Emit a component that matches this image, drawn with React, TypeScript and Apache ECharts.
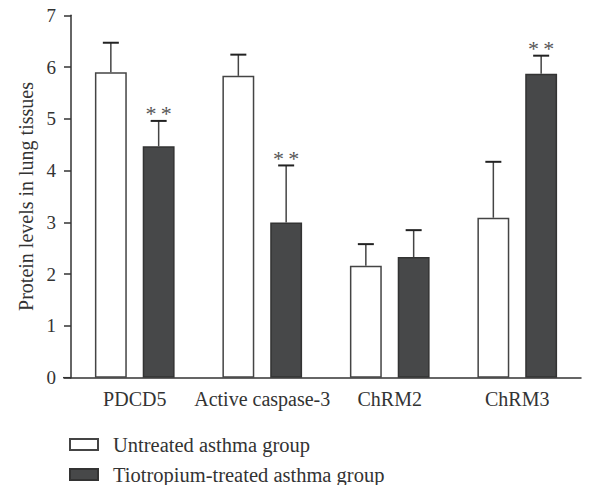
import React, { useEffect, useRef } from "react";
import * as echarts from "echarts";

const categories = ["PDCD5", "Active caspase-3", "ChRM2", "ChRM3"];
const seriesNames = ["Untreated asthma group", "Tiotropium-treated asthma group"];
const untreatedMean = [5.9, 5.83, 2.16, 3.09];
const untreatedUpper = [6.47, 6.24, 2.58, 4.17];
const treatedMean = [4.47, 3.0, 2.33, 5.87];
const treatedUpper = [4.96, 4.1, 2.85, 6.22];
const significance = ["**", "**", "", "**"];

const FONT = "Liberation Serif";
const TEXT = "#333";
const BAR_W = 0.25;
const GAP = 0.5;

function errorSeries(upper: number[], mean: number[], dir: number, stars: string[] | null) {
  return {
    type: "custom",
    silent: true,
    z: 5,
    data: upper.map((u, i) => [i, u, mean[i]]),
    renderItem: (params: any, api: any) => {
      const idx = api.value(0);
      const up = api.value(1);
      const m = api.value(2);
      const band = api.size([1, 0])[0];
      const off = ((band * BAR_W) * (1 + GAP)) / 2 * dir;
      const pTop = api.coord([idx, up]);
      const pMean = api.coord([idx, m]);
      const x = pTop[0] + off;
      const cap = 16;
      const children: any[] = [
        { type: "line", shape: { x1: x, y1: pMean[1], x2: x, y2: pTop[1] }, style: { stroke: "#444", lineWidth: 1.5 } },
        { type: "line", shape: { x1: x - cap / 2, y1: pTop[1], x2: x + cap / 2, y2: pTop[1] }, style: { stroke: "#222", lineWidth: 2 } },
      ];
      if (stars && stars[idx]) {
        children.push({
          type: "text",
          x: x,
          y: pTop[1] + 4,
          style: {
            text: stars[idx].split("").join("\u2009"),
            font: `22px "${FONT}"`,
            fill: "#555555",
            align: "center",
            verticalAlign: "bottom",
          },
        });
      }
      return { type: "group", children };
    },
  };
}

export default function App() {
  const ref = useRef<HTMLDivElement>(null);
  useEffect(() => {
    const chart = echarts.init(ref.current!, null, { renderer: "svg" });
    chart.setOption({
      animation: false,
      textStyle: { fontFamily: FONT, color: TEXT },
      grid: { left: 71, right: 13, top: 15.3, bottom: 107.3 },
      legend: {
        orient: "vertical",
        left: 69,
        top: 434,
        padding: 0,
        itemWidth: 28,
        itemHeight: 11,
        itemGap: 9,
        icon: "rect",
        textStyle: { fontFamily: FONT, fontSize: 20.5, color: TEXT, lineHeight: 20, padding: [0, 0, 0, 10] },
        data: seriesNames,
      },
      xAxis: {
        type: "category",
        data: categories,
        axisLine: { lineStyle: { color: "#333", width: 1.5 } },
        axisTick: { alignWithLabel: true, length: 7, lineStyle: { color: "#333", width: 1.5 } },
        axisLabel: { fontFamily: FONT, fontSize: 20, color: TEXT, margin: 11, interval: 0 },
      },
      yAxis: {
        type: "value",
        min: 0,
        max: 7,
        interval: 1,
        name: "Protein levels in lung tissues",
        nameLocation: "middle",
        nameGap: 34,
        nameTextStyle: { fontFamily: FONT, fontSize: 20, color: TEXT },
        axisLine: { show: true, lineStyle: { color: "#333", width: 1.5 } },
        axisTick: { show: true, length: 7, lineStyle: { color: "#333", width: 1.5 } },
        axisLabel: { fontFamily: FONT, fontSize: 19, color: TEXT, margin: 15 },
        splitLine: { show: false },
      },
      series: [
        {
          name: seriesNames[0],
          type: "bar",
          data: untreatedMean,
          barWidth: BAR_W * 100 + "%",
          barGap: GAP * 100 + "%",
          itemStyle: { color: "#ffffff", borderColor: "#444", borderWidth: 1.5 },
        },
        {
          name: seriesNames[1],
          type: "bar",
          data: treatedMean,
          barWidth: BAR_W * 100 + "%",
          barGap: GAP * 100 + "%",
          itemStyle: { color: "#474849", borderColor: "#333", borderWidth: 1.5 },
        },
        errorSeries(untreatedUpper, untreatedMean, -1, null),
        errorSeries(treatedUpper, treatedMean, 1, significance),
      ],
      graphic: [
        { type: "line", shape: { x1: 63, y1: 377.7, x2: 71, y2: 377.7 }, style: { stroke: "#333", lineWidth: 1.5 } },
      ],
    });
    return () => chart.dispose();
  }, []);
  return <div ref={ref} style={{ width: 594, height: 485, position: "absolute", left: 0, top: 0 }} />;
}
